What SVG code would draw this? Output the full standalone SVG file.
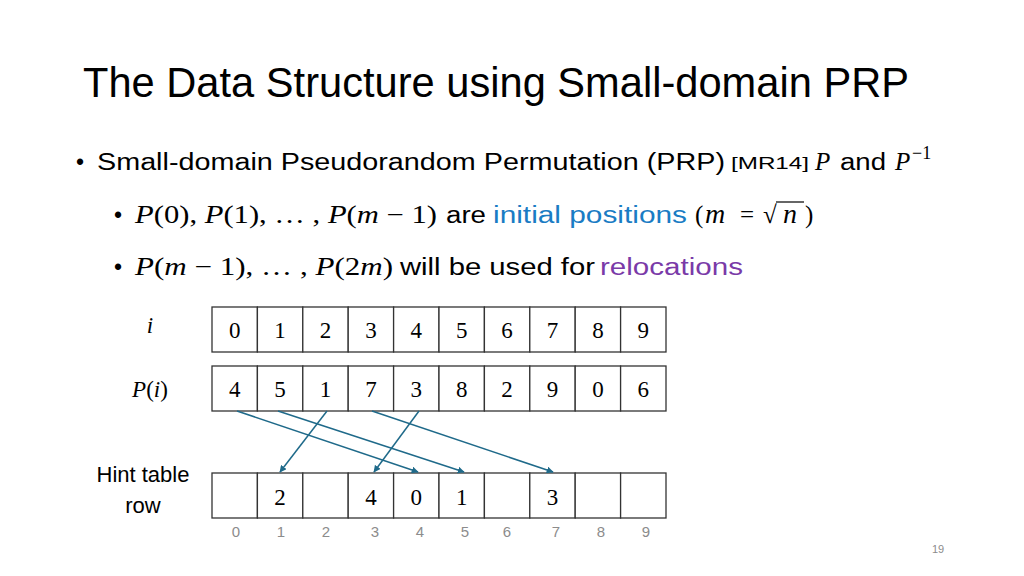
<svg xmlns="http://www.w3.org/2000/svg" width="1024" height="576" viewBox="0 0 1024 576">
<style>
.sans{font-family:"Liberation Sans","Open Sans",sans-serif;fill:#000}
.math{font-family:"Liberation Serif","DejaVu Serif",serif;fill:#000}
.it{font-style:italic}
.cell{fill:#fff;stroke:#333;stroke-width:1.3}
.num{font-family:"Liberation Serif","DejaVu Serif",serif;font-size:23px;text-anchor:middle;fill:#000}
.idx{font-family:"Liberation Sans",sans-serif;font-size:15px;text-anchor:middle;fill:#8c8c8c}
.conn{stroke:#1f6a8a;stroke-width:1.5;fill:none;marker-end:url(#ah)}
</style>
<defs>
<marker id="ah" viewBox="0 0 10 10" refX="9" refY="5" markerWidth="7" markerHeight="7" orient="auto-start-reverse" markerUnits="userSpaceOnUse">
<path d="M0,0 L10,5 L0,10 z" fill="#1f6a8a"/>
</marker>
</defs>
<rect width="1024" height="576" fill="#fff"/>
<g id="title">
<text class="sans" x="83" y="97" font-size="43" textLength="826" lengthAdjust="spacingAndGlyphs">The Data Structure using Small-domain PRP</text>
</g>
<g id="bullets">
<text class="sans" x="76" y="170" font-size="23">•</text>
<text class="sans" x="97" y="170" font-size="23" textLength="628" lengthAdjust="spacingAndGlyphs">Small-domain Pseudorandom Permutation (PRP)</text>
<text class="sans" x="731" y="169" font-size="17" textLength="78" lengthAdjust="spacingAndGlyphs">[MR14]</text>
<text class="math it" x="815" y="170" font-size="25">P</text>
<text class="sans" x="840" y="170" font-size="23" textLength="46" lengthAdjust="spacingAndGlyphs">and</text>
<text class="math it" x="895" y="170" font-size="25">P</text>
<text class="math" x="912" y="159" font-size="18">−1</text>

<text class="sans" x="114" y="223" font-size="23">•</text>
<text class="math" x="135" y="223" font-size="25" textLength="302" lengthAdjust="spacingAndGlyphs"><tspan class="it">P</tspan>(0), <tspan class="it">P</tspan>(1), … , <tspan class="it">P</tspan>(<tspan class="it">m</tspan> − 1)</text>
<text class="sans" x="446" y="223" font-size="23" textLength="40" lengthAdjust="spacingAndGlyphs">are</text>
<text class="sans" x="493" y="223" font-size="23" textLength="194" lengthAdjust="spacingAndGlyphs" style="fill:#1a7cc4">initial positions</text>
<text class="math" x="695" y="223" font-size="25">(</text>
<text class="math it" x="705" y="223" font-size="28">m</text>
<text class="math" x="740" y="223" font-size="25">=</text>
<text class="math" x="763" y="223" font-size="25">√</text>
<line x1="776" y1="202" x2="804" y2="202" stroke="#000" stroke-width="1.2"/>
<text class="math it" x="783" y="223" font-size="28">n</text>
<text class="math" x="805" y="223" font-size="25">)</text>

<text class="sans" x="114" y="275" font-size="23">•</text>
<text class="math" x="135" y="275" font-size="25" textLength="258" lengthAdjust="spacingAndGlyphs"><tspan class="it">P</tspan>(<tspan class="it">m</tspan> − 1), … , <tspan class="it">P</tspan>(2<tspan class="it">m</tspan>)</text>
<text class="sans" x="400" y="275" font-size="23" textLength="195" lengthAdjust="spacingAndGlyphs">will be used for</text>
<text class="sans" x="600" y="275" font-size="23" textLength="143" lengthAdjust="spacingAndGlyphs" style="fill:#7a3aa8">relocations</text>
</g>
<g id="row-i">
<text class="math it" x="150" y="333" font-size="23" text-anchor="middle">i</text>
<rect class="cell" x="212" y="307" width="45.4" height="45"/><rect class="cell" x="257.4" y="307" width="45.4" height="45"/><rect class="cell" x="302.8" y="307" width="45.4" height="45"/><rect class="cell" x="348.2" y="307" width="45.4" height="45"/><rect class="cell" x="393.6" y="307" width="45.4" height="45"/><rect class="cell" x="439" y="307" width="45.4" height="45"/><rect class="cell" x="484.4" y="307" width="45.4" height="45"/><rect class="cell" x="529.8" y="307" width="45.4" height="45"/><rect class="cell" x="575.2" y="307" width="45.4" height="45"/><rect class="cell" x="620.6" y="307" width="45.4" height="45"/>
<text class="num" x="234.7" y="338">0</text><text class="num" x="280.1" y="338">1</text><text class="num" x="325.5" y="338">2</text><text class="num" x="370.9" y="338">3</text><text class="num" x="416.3" y="338">4</text><text class="num" x="461.7" y="338">5</text><text class="num" x="507.1" y="338">6</text><text class="num" x="552.5" y="338">7</text><text class="num" x="597.9" y="338">8</text><text class="num" x="643.3" y="338">9</text>
</g>
<g id="row-P">
<text class="math" x="150" y="397" font-size="23" text-anchor="middle"><tspan class="it">P</tspan>(<tspan class="it">i</tspan>)</text>
<rect class="cell" x="212" y="366" width="45.4" height="45"/><rect class="cell" x="257.4" y="366" width="45.4" height="45"/><rect class="cell" x="302.8" y="366" width="45.4" height="45"/><rect class="cell" x="348.2" y="366" width="45.4" height="45"/><rect class="cell" x="393.6" y="366" width="45.4" height="45"/><rect class="cell" x="439" y="366" width="45.4" height="45"/><rect class="cell" x="484.4" y="366" width="45.4" height="45"/><rect class="cell" x="529.8" y="366" width="45.4" height="45"/><rect class="cell" x="575.2" y="366" width="45.4" height="45"/><rect class="cell" x="620.6" y="366" width="45.4" height="45"/>
<text class="num" x="234.7" y="397">4</text><text class="num" x="280.1" y="397">5</text><text class="num" x="325.5" y="397">1</text><text class="num" x="370.9" y="397">7</text><text class="num" x="416.3" y="397">3</text><text class="num" x="461.7" y="397">8</text><text class="num" x="507.1" y="397">2</text><text class="num" x="552.5" y="397">9</text><text class="num" x="597.9" y="397">0</text><text class="num" x="643.3" y="397">6</text>
</g>
<g id="row-hint">
<text class="sans" x="143" y="482" font-size="22" text-anchor="middle">Hint table</text>
<text class="sans" x="143" y="513" font-size="22" text-anchor="middle">row</text>
<rect class="cell" x="212" y="473" width="45.4" height="45"/><rect class="cell" x="257.4" y="473" width="45.4" height="45"/><rect class="cell" x="302.8" y="473" width="45.4" height="45"/><rect class="cell" x="348.2" y="473" width="45.4" height="45"/><rect class="cell" x="393.6" y="473" width="45.4" height="45"/><rect class="cell" x="439" y="473" width="45.4" height="45"/><rect class="cell" x="484.4" y="473" width="45.4" height="45"/><rect class="cell" x="529.8" y="473" width="45.4" height="45"/><rect class="cell" x="575.2" y="473" width="45.4" height="45"/><rect class="cell" x="620.6" y="473" width="45.4" height="45"/>
<text class="num" x="280.1" y="505">2</text><text class="num" x="370.9" y="505">4</text><text class="num" x="416.3" y="505">0</text><text class="num" x="461.7" y="505">1</text><text class="num" x="552.5" y="505">3</text>
<text class="idx" x="236" y="537">0</text><text class="idx" x="281" y="537">1</text><text class="idx" x="326" y="537">2</text><text class="idx" x="375" y="537">3</text><text class="idx" x="420" y="537">4</text><text class="idx" x="465" y="537">5</text><text class="idx" x="507" y="537">6</text><text class="idx" x="556" y="537">7</text><text class="idx" x="601" y="537">8</text><text class="idx" x="646" y="537">9</text>
</g>
<g id="connectors">
<line class="conn" x1="237" y1="411" x2="418" y2="472"/>
<line class="conn" x1="278" y1="411" x2="464" y2="472"/>
<line class="conn" x1="327" y1="411" x2="280" y2="472"/>
<line class="conn" x1="372" y1="411" x2="553" y2="472"/>
<line class="conn" x1="419" y1="411" x2="374" y2="472"/>
</g>
<g id="page-number">
<text class="sans" x="938" y="553" font-size="11" text-anchor="middle" style="fill:#8c8c8c">19</text>
</g>
</svg>
